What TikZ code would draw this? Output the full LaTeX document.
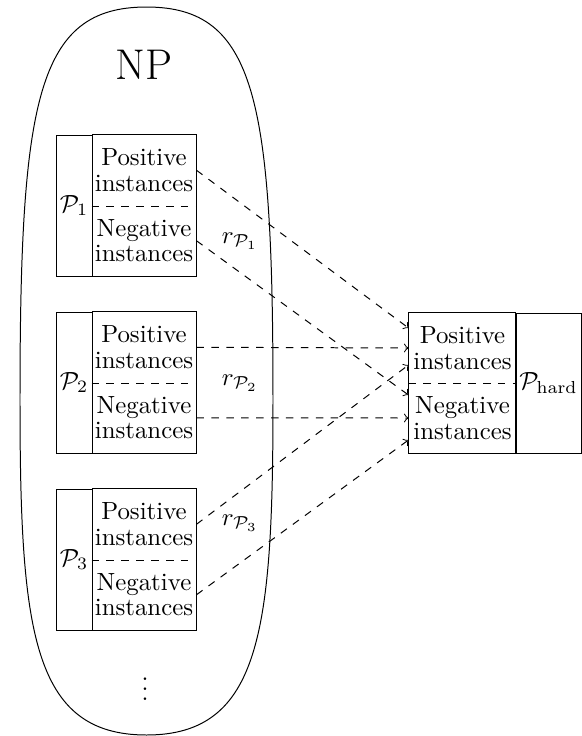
\documentclass[tikz,border=0pt]{standalone}
\usetikzlibrary{calc}
\newcommand\pxu{0.4023pt}
\begin{document}
\begin{tikzpicture}[x=0.4023pt,y=-0.4023pt,
  half/.style={inner sep=0pt, minimum width=104*\pxu, minimum height=70.5*\pxu, align=center, font=\fontsize{10}{10.2}\selectfont},
  rhalf/.style={half, minimum width=107*\pxu, minimum height=70*\pxu},
  lab/.style={draw, inner sep=0pt, minimum width=36*\pxu, minimum height=141*\pxu},
  conn/.style={dashed, ->}]
\useasboundingbox (0,0) rectangle (582,736);
% NP region
\draw (146.5,7) .. controls (256,7) and (273,100) .. (273,400)
  .. controls (273,630) and (261,735) .. (146.5,735)
  .. controls (32,735) and (20,630) .. (20,400)
  .. controls (20,100) and (37,7) .. cycle;
\node (np) at (144,65) {\LARGE NP};
\node (dots) at (145,682) {$\vdots$};
% problem boxes
\foreach \i/\y in {1/135,2/312,3/489}{
  \node[lab] (l\i) at (74,\y+70.5) {$\mathcal{P}_\i$};
  \node[half] (pos\i) at (144,\y+35.25) {Positive\\instances};
  \node[half] (neg\i) at (144,\y+105.75) {Negative\\instances};
  \draw (l\i.north east) rectangle (neg\i.south east);
  \draw[dashed] (pos\i.south west) -- (pos\i.south east);
}
% hard problem box
\node[lab, minimum width=65*\pxu, minimum height=140*\pxu] (hl) at (548.5,383) {$\mathcal{P}_{\mathrm{hard}}$};
\node[rhalf] (hpos) at (462.5,348) {Positive\\instances};
\node[rhalf] (hneg) at (462.5,418) {Negative\\instances};
\draw (hpos.north west) rectangle (hl.south west);
\draw[dashed] (hpos.south west) -- (hpos.south east);
% reductions
\draw[conn] (pos1.east) -- ($(hpos.west)+(0,-20)$);
\draw[conn] (neg1.east) -- ($(hneg.west)+(0,-23)$);
\draw[conn] (pos2.east) -- (hpos.west);
\draw[conn] (neg2.east) -- (hneg.west);
\draw[conn] (pos3.east) -- ($(hpos.west)+(0,17)$);
\draw[conn] (neg3.east) -- ($(hneg.west)+(0,22)$);
\node (r1) at (240,241) {$r_{\mathcal{P}_1}$};
\node (r2) at (240,383) {$r_{\mathcal{P}_2}$};
\node (r3) at (240,523) {$r_{\mathcal{P}_3}$};
\end{tikzpicture}
\end{document}
